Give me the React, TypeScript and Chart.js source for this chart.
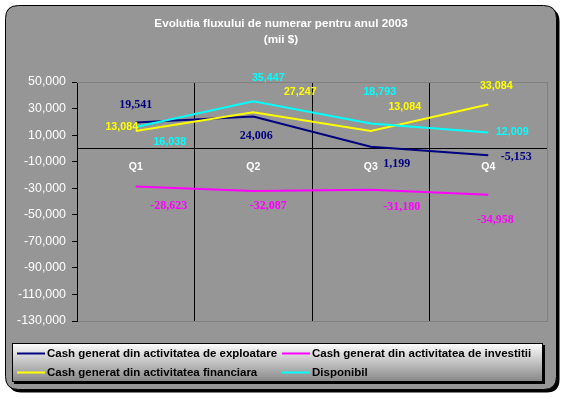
import React, { useEffect, useRef } from 'react';
import { Chart, registerables } from 'chart.js';

Chart.register(...registerables);

// ---- data ----
const categories = ['Q1', 'Q2', 'Q3', 'Q4'];
const exploatare = [19541, 24006, 1199, -5153];
const investitii = [-28623, -32087, -31180, -34958];
const financiara = [13084, 27247, 13084, 33084];
const disponibil = [16038, 35447, 18793, 12009];
const seriesNames = [
  'Cash generat din activitatea de exploatare',
  'Cash generat din activitatea de investitii',
  'Cash generat din activitatea financiara',
  'Disponibil',
];
const titleLines = ['Evolutia fluxului de numerar pentru anul 2003', '(mii $)'];
const yMin = -130000;
const yMax = 50000;
const yStep = 20000;

// ---- styles ----
const colors = ['#000080', '#FF00FF', '#FFFF00', '#00FFFF'];
const labelFonts = [
  'bold 12px "Liberation Serif"',
  'bold 12px "Liberation Serif"',
  'bold 10.7px "Liberation Sans"',
  'bold 10.7px "Liberation Sans"',
];
// pixel offsets of each data label from its point
const labelOffsets = [
  [[0, -18], [3, 19], [26, 17], [28, 2]],
  [[33, 20], [15, 15], [31, 17], [7, 25]],
  [[-14, -4], [47, -20], [34, -24], [8, -18]],
  [[34, 15], [15, -23], [9, -31], [24, 0]],
];
const legendItemPos = [
  [17, 353.5],
  [282, 353.5],
  [17, 372.5],
  [282, 372.5],
];

const fmt = (v: number) => Number(v).toLocaleString('en-US');

function roundRectPath(ctx: CanvasRenderingContext2D, x: number, y: number, w: number, h: number, r: number) {
  ctx.beginPath();
  ctx.moveTo(x + r, y);
  ctx.lineTo(x + w - r, y);
  ctx.quadraticCurveTo(x + w, y, x + w, y + r);
  ctx.lineTo(x + w, y + h - r);
  ctx.quadraticCurveTo(x + w, y + h, x + w - r, y + h);
  ctx.lineTo(x + r, y + h);
  ctx.quadraticCurveTo(x, y + h, x, y + h - r);
  ctx.lineTo(x, y + r);
  ctx.quadraticCurveTo(x, y, x + r, y);
  ctx.closePath();
}

export default function App() {
  const ref = useRef<HTMLCanvasElement>(null);

  useEffect(() => {
    const canvas = ref.current;
    if (!canvas) return;

    const decor = {
      id: 'decor',
      beforeDraw(chart: any) {
        const ctx = chart.ctx as CanvasRenderingContext2D;
        ctx.save();
        roundRectPath(ctx, 8.5, 8.5, 551, 384, 13);
        ctx.fillStyle = '#000';
        ctx.fill();
        roundRectPath(ctx, 5.5, 5.5, 551, 384, 13);
        ctx.fillStyle = '#969696';
        ctx.fill();
        ctx.strokeStyle = '#000';
        ctx.lineWidth = 1;
        ctx.stroke();
        ctx.restore();
      },
      beforeDatasetsDraw(chart: any) {
        const ctx = chart.ctx as CanvasRenderingContext2D;
        const a = chart.chartArea;
        ctx.save();
        ctx.strokeStyle = '#808080';
        ctx.lineWidth = 1;
        ctx.beginPath();
        ctx.moveTo(a.left, a.top + 0.5);
        ctx.lineTo(a.right + 0.5, a.top + 0.5);
        ctx.lineTo(a.right + 0.5, a.bottom + 0.5);
        ctx.lineTo(a.left + 1, a.bottom + 0.5);
        ctx.stroke();
        ctx.restore();
      },
      afterDatasetsDraw(chart: any) {
        const ctx = chart.ctx as CanvasRenderingContext2D;
        ctx.save();
        ctx.textAlign = 'center';
        ctx.textBaseline = 'middle';
        chart.data.datasets.forEach((ds: any, di: number) => {
          const meta = chart.getDatasetMeta(di);
          ctx.font = labelFonts[di];
          ctx.fillStyle = colors[di];
          meta.data.forEach((pt: any, i: number) => {
            const [dx, dy] = labelOffsets[di][i];
            ctx.fillText(fmt(ds.data[i]), pt.x + dx, pt.y + dy);
          });
        });
        ctx.restore();
      },
      afterDraw(chart: any) {
        const ctx = chart.ctx as CanvasRenderingContext2D;
        ctx.save();
        // title
        ctx.fillStyle = '#ffffff';
        ctx.font = 'bold 11.7px "Liberation Sans"';
        ctx.textAlign = 'center';
        ctx.textBaseline = 'middle';
        ctx.fillText(titleLines[0], 281, 24);
        ctx.fillText(titleLines[1], 281, 40);

        // legend box
        ctx.fillStyle = '#000';
        ctx.fillRect(14, 345, 531, 39);
        const g = ctx.createLinearGradient(0, 343, 0, 382);
        g.addColorStop(0, '#ffffff');
        g.addColorStop(1, '#858585');
        ctx.fillStyle = g;
        ctx.fillRect(12, 343, 531, 39);
        ctx.strokeStyle = '#000';
        ctx.lineWidth = 1;
        ctx.strokeRect(12.5, 343.5, 530, 38);

        ctx.textAlign = 'left';
        ctx.font = 'bold 11.5px "Liberation Sans"';
        seriesNames.forEach((name, i) => {
          const [x, y] = legendItemPos[i];
          ctx.strokeStyle = colors[i];
          ctx.lineWidth = 2;
          ctx.beginPath();
          ctx.moveTo(x, y);
          ctx.lineTo(x + 28, y);
          ctx.stroke();
          ctx.fillStyle = '#000';
          ctx.fillText(name, x + 30, y + 0.5);
        });
        ctx.restore();
      },
    };

    const series = [exploatare, investitii, financiara, disponibil];
    const chart = new Chart(canvas, {
      type: 'line',
      data: {
        labels: categories,
        datasets: series.map((d, i) => ({
          label: seriesNames[i],
          data: d,
          borderColor: colors[i],
          backgroundColor: colors[i],
          borderWidth: 2,
          pointRadius: 0,
          tension: 0,
          fill: false,
          order: 4 - i,
        })),
      },
      options: {
        responsive: false,
        animation: false,
        layout: { padding: { left: 0, right: 18, top: 82, bottom: 78 } },
        plugins: {
          legend: { display: false },
          title: { display: false },
          tooltip: { enabled: false },
        },
        scales: {
          x: {
            type: 'category',
            position: { y: 0 } as any,
            offset: true,
            grid: {
              offset: true,
              drawTicks: false,
              lineWidth: 1,
              color: (c: any) =>
                c.index === undefined || c.index >= categories.length ? '#808080' : '#000000',
            },
            border: { display: true, color: '#000000', width: 1 },
            ticks: {
              color: '#ffffff',
              padding: 12,
              autoSkip: false,
              maxRotation: 0,
              font: { family: 'Liberation Sans', size: 10.5, weight: 'bold' },
            },
          },
          y: {
            type: 'linear',
            min: yMin,
            max: yMax,
            afterFit: (s: any) => {
              s.width = 77;
            },
            grid: { drawOnChartArea: false, drawTicks: true, tickLength: 5, color: '#000000' },
            border: { display: true, color: '#000000', width: 1 },
            ticks: {
              stepSize: yStep,
              color: '#ffffff',
              padding: 6,
              font: { family: 'Liberation Sans', size: 12.4 },
              callback: (v: any) => fmt(v),
            },
          },
        },
      },
      plugins: [decor],
    } as any);

    return () => chart.destroy();
  }, []);

  return (
    <div style={{ position: 'fixed', left: 0, top: 0, width: 565, height: 399 }}>
      <canvas ref={ref} width={565} height={399} style={{ display: 'block' }} />
    </div>
  );
}
